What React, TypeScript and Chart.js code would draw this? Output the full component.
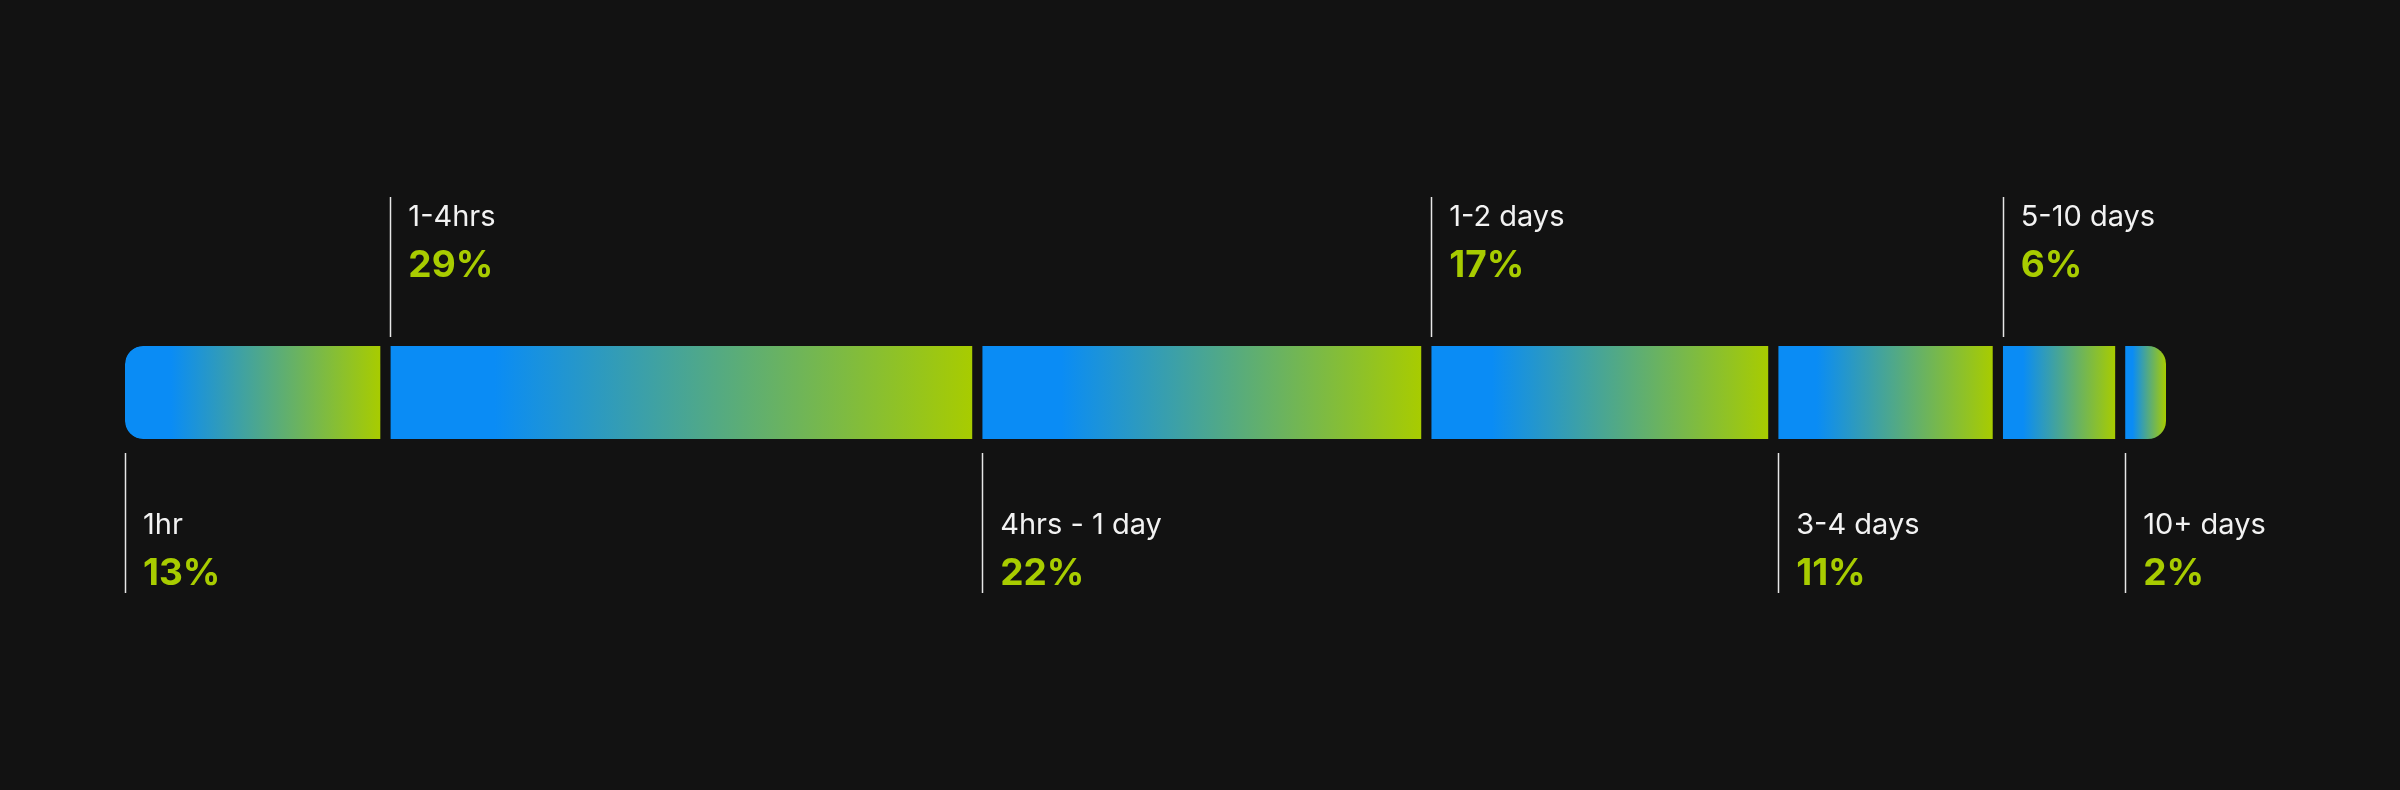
import { useEffect, useRef } from "react";
import { Chart, registerables } from "chart.js";

Chart.register(...registerables);

const categories = ["1hr", "1-4hrs", "4hrs - 1 day", "1-2 days", "3-4 days", "5-10 days", "10+ days"];
const shares = [13, 29, 22, 17, 11, 6, 2];

const BG = "#121212";
const BLUE = "#0a8cf5";
const GREEN = "#a8cc00";
const GAP = 10;

const labelsPlugin = {
  id: "segmentLabels",
  afterDatasetsDraw(chart: any) {
    const ctx = chart.ctx;
    ctx.save();
    chart.data.datasets.forEach((ds: any, i: number) => {
      const el = chart.getDatasetMeta(i).data[0];
      if (!el) return;
      const left = Math.min(el.base, el.x);
      const top = el.y - el.height / 2;
      const bottom = el.y + el.height / 2;
      const lx = Math.round(left) + 0.5;
      const below = i % 2 === 0;
      ctx.strokeStyle = "rgba(255,255,255,0.9)";
      ctx.lineWidth = 1.5;
      ctx.beginPath();
      if (below) {
        ctx.moveTo(lx, bottom + 14);
        ctx.lineTo(lx, bottom + 154);
      } else {
        ctx.moveTo(lx, top - 149);
        ctx.lineTo(lx, top - 9);
      }
      ctx.stroke();
      const tx = left + 18;
      const labelY = below ? bottom + 95 : top - 120;
      const valueY = below ? bottom + 146 : top - 69;
      ctx.textAlign = "left";
      ctx.textBaseline = "alphabetic";
      ctx.fillStyle = "#f2f2f2";
      ctx.font = "400 29px Inter";
      ctx.fillText(ds.label, tx, labelY);
      ctx.fillStyle = GREEN;
      ctx.font = "700 37px Inter";
      ctx.fillText(`${ds.data[0]}%`, tx, valueY);
    });
    ctx.restore();
  },
};

export default function App() {
  const canvasRef = useRef<HTMLCanvasElement>(null);

  useEffect(() => {
    if (!canvasRef.current) return;
    const last = shares.length - 1;
    const cum: number[] = [0];
    shares.forEach((v, i) => cum.push(cum[i] + v));

    const chart = new Chart(canvasRef.current, {
      type: "bar",
      data: {
        labels: ["share"],
        datasets: categories.map((name, i) => ({
          label: name,
          data: [shares[i]],
          backgroundColor: (c: any) => {
            const { chart: ch } = c;
            if (!ch.chartArea) return BLUE;
            const xs = ch.scales.x;
            const x0 = xs.getPixelForValue(cum[i]);
            const x1 = xs.getPixelForValue(cum[i + 1]) - (i < last ? GAP : 0);
            const g = ch.ctx.createLinearGradient(x0, 0, x1, 0);
            g.addColorStop(0, BLUE);
            g.addColorStop(0.18, BLUE);
            g.addColorStop(1, GREEN);
            return g;
          },
          borderColor: BG,
          borderWidth: { top: 0, bottom: 0, left: 0, right: i < last ? GAP : 0 },
          borderSkipped: false,
          borderRadius: {
            topLeft: i === 0 ? 18 : 0,
            bottomLeft: i === 0 ? 18 : 0,
            topRight: i === last ? 18 : 0,
            bottomRight: i === last ? 18 : 0,
          },
          inflateAmount: 0,
          barThickness: 93,
        })),
      },
      options: {
        indexAxis: "y",
        animation: false,
        responsive: false,
        events: [],
        layout: { padding: { left: 125, right: 234, top: 0, bottom: 5 } },
        plugins: { legend: { display: false }, tooltip: { enabled: false } },
        scales: {
          x: { stacked: true, min: 0, max: 100, display: false },
          y: { stacked: true, display: false },
        },
      },
      plugins: [labelsPlugin],
    });
    return () => chart.destroy();
  }, []);

  return (
    <div style={{ position: "fixed", left: 0, top: 0, width: 2400, height: 790, background: BG }}>
      <canvas ref={canvasRef} width={2400} height={790} />
    </div>
  );
}
